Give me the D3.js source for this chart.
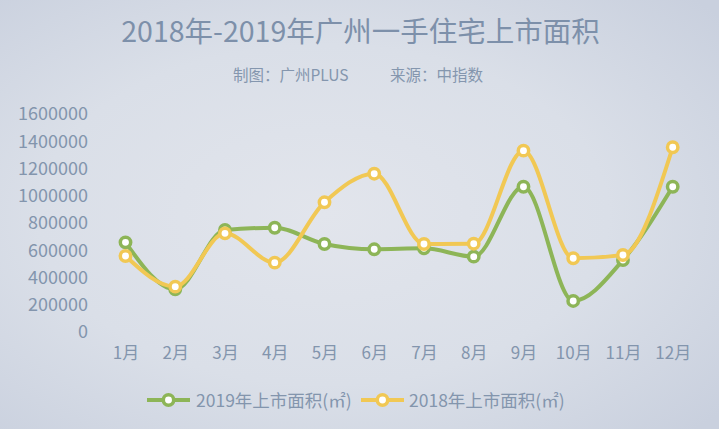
<!DOCTYPE html>
<html><head><meta charset="utf-8">
<script src="https://cdn.jsdelivr.net/npm/d3@7/dist/d3.min.js"></script>
<style>html,body{margin:0;padding:0;overflow:hidden;}svg{display:block;}</style>
</head><body>
<script>
const months = ["1月","2月","3月","4月","5月","6月","7月","8月","9月","10月","11月","12月"];
const s2019 = [658000,313000,749000,765000,646000,607000,614000,553000,1066000,228000,528000,1066000];
const s2018 = [558000,333000,724000,509000,952000,1162000,646000,648000,1331000,541000,565000,1356000];
const yTicks = [0,200000,400000,600000,800000,1000000,1200000,1400000,1600000];
const seriesNames = ["2019年上市面积(㎡)","2018年上市面积(㎡)"];
const colors = ["#8db557","#f1c854"];
const titleText = "2018年-2019年广州一手住宅上市面积";
const subLeft = "制图：广州PLUS", subRight = "来源：中指数";

const W=719,H=429;
const font = "'Noto Sans CJK SC','Noto Sans',sans-serif";
const svg = d3.select("body").append("svg").attr("width",W).attr("height",H);
const defs = svg.append("defs");
const g = defs.append("radialGradient").attr("id","bg").attr("cx","45%").attr("cy","50%").attr("r","72%");
g.append("stop").attr("offset","0%").attr("stop-color","#e2e5ec");
g.append("stop").attr("offset","55%").attr("stop-color","#dadfe8");
g.append("stop").attr("offset","100%").attr("stop-color","#c9d0de");
svg.append("rect").attr("width",W).attr("height",H).attr("fill","url(#bg)");

svg.append("text").attr("x",360.5).attr("y",42).attr("text-anchor","middle")
  .attr("font-family",font).attr("font-size",28.5).attr("fill","#7d90aa").text(titleText);
svg.append("text").attr("x",233).attr("y",81)
  .attr("font-family",font).attr("font-size",15.5).attr("fill","#8496ae").text(subLeft);
svg.append("text").attr("x",390).attr("y",81)
  .attr("font-family",font).attr("font-size",15.5).attr("fill","#8496ae").text(subRight);

const x = d3.scalePoint().domain(months).range([125.5,672.7]);
const y = d3.scaleLinear().domain([0,1600000]).range([332,114]);

const yAxis = svg.append("g").attr("transform","translate(90,0)")
  .call(d3.axisLeft(y).tickValues(yTicks).tickSize(0).tickPadding(2).tickFormat(d3.format("d")));
yAxis.select(".domain").remove();
yAxis.selectAll("text").attr("font-family",font).attr("font-size",18).attr("fill","#8395ad");

const xAxis = svg.append("g").attr("transform","translate(0,345)")
  .call(d3.axisBottom(x).tickSize(0).tickPadding(2));
xAxis.select(".domain").remove();
xAxis.selectAll("text").attr("font-family",font).attr("font-size",17).attr("fill","#8395ad");

const line = d3.line().x((d,i)=>x(months[i])).y(d=>y(d)).curve(d3.curveMonotoneX);
[s2019,s2018].forEach((s,k)=>{
  svg.append("path").attr("d",line(s)).attr("fill","none").attr("stroke",colors[k])
    .attr("stroke-width",4).attr("stroke-linejoin","round").attr("stroke-linecap","round");
});
[s2019,s2018].forEach((s,k)=>{
  svg.selectAll(null).data(s).enter().append("circle")
    .attr("cx",(d,i)=>x(months[i])).attr("cy",d=>y(d)).attr("r",5.2)
    .attr("fill","#fff").attr("stroke",colors[k]).attr("stroke-width",3.5);
});

// legend
const leg = [{x0:147,tx:196},{x0:361,tx:409}];
leg.forEach((l,k)=>{
  const lg = svg.append("g");
  lg.append("line").attr("x1",l.x0).attr("x2",l.x0+43).attr("y1",400).attr("y2",400)
    .attr("stroke",colors[k]).attr("stroke-width",4);
  lg.append("circle").attr("cx",l.x0+21.5).attr("cy",400).attr("r",5.2)
    .attr("fill","#fff").attr("stroke",colors[k]).attr("stroke-width",3.5);
  lg.append("text").attr("x",l.tx).attr("y",406.5).attr("font-family",font).attr("font-size",17.5)
    .attr("fill","#8395ad").text(seriesNames[k]);
});
</script>
</body></html>
